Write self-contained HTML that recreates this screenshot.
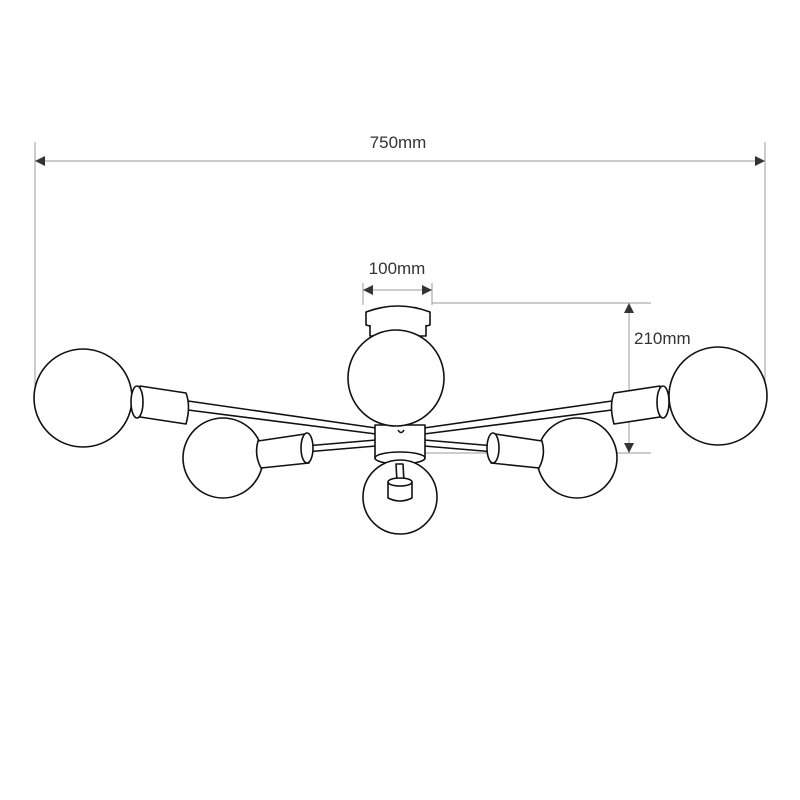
<!DOCTYPE html>
<html><head><meta charset="utf-8"><style>
html,body{margin:0;padding:0;background:#fff}
svg{display:block}
text{font-family:"Liberation Sans",sans-serif;font-size:17px;fill:#333}
</style></head><body>
<svg width="800" height="800" viewBox="0 0 800 800" xmlns="http://www.w3.org/2000/svg">
<defs>
<marker id="a" viewBox="0 0 10 10" refX="10" refY="5" markerWidth="10" markerHeight="10" markerUnits="userSpaceOnUse" orient="auto-start-reverse"><path d="M0,0L10,5L0,10z" fill="#333"/></marker>
</defs>
<g stroke="#999" stroke-width="1" fill="none">
<line x1="35" y1="142" x2="35" y2="395"/>
<line x1="765" y1="142" x2="765" y2="395"/>
<line x1="35" y1="161" x2="765" y2="161" marker-start="url(#a)" marker-end="url(#a)"/>
<line x1="363" y1="283" x2="363" y2="305"/>
<line x1="432" y1="283" x2="432" y2="305"/>
<line x1="363" y1="290" x2="432" y2="290" marker-start="url(#a)" marker-end="url(#a)"/>
<line x1="432" y1="303" x2="651" y2="303"/>
<line x1="425" y1="453" x2="651" y2="453"/>
<line x1="629" y1="303" x2="629" y2="453" marker-start="url(#a)" marker-end="url(#a)"/>
</g>
<text x="398" y="148" text-anchor="middle">750mm</text>
<text x="397" y="274" text-anchor="middle">100mm</text>
<text x="634" y="344">210mm</text>
<g stroke="#111" stroke-width="1.6" fill="#fff" stroke-linejoin="round">
<!-- rods left -->
<path d="M188,401 L376,428 L376,434 L188,410z"/>
<path d="M305,446 L376,440 L376,446 L305,452z"/>
<!-- rods right -->
<path d="M612,401 L424,428 L424,434 L612,410z"/>
<path d="M495,446 L424,440 L424,446 L495,452z"/>
<!-- left big -->
<circle cx="83" cy="398" r="49"/>
<path d="M140,386 L186,393 Q191,406 186,424 L140,417z"/>
<ellipse cx="137" cy="402" rx="6" ry="16"/>
<!-- left small -->
<circle cx="223" cy="458" r="40"/>
<path d="M258,441 L305,434 L309,463 L261,468 Q254,455 258,441z"/>
<ellipse cx="307" cy="448" rx="6" ry="15"/>
<!-- right big -->
<circle cx="718" cy="396" r="49"/>
<path d="M660,386 L614,393 Q609,406 614,424 L660,417z"/>
<ellipse cx="663" cy="402" rx="6" ry="16"/>
<!-- right small -->
<circle cx="577" cy="458" r="40"/>
<path d="M542,441 L495,434 L491,463 L539,468 Q546,455 542,441z"/>
<ellipse cx="493" cy="448" rx="6" ry="15"/>
<!-- center body -->
<path d="M375,425 L375,458 Q400,466 425,458 L425,425z"/>
<ellipse cx="400" cy="458" rx="25" ry="6"/>
<!-- canopy -->
<path d="M366,312 Q398,300 430,312 L430,325 Q398,335 366,325z"/>
<path d="M370,325 L370,336 L426,336 L426,325"/>
<!-- center globe -->
<circle cx="396" cy="378" r="48"/>
<path d="M398,430 q3,5 6,0" fill="none"/>
<!-- bottom globe -->
<circle cx="400" cy="497" r="37"/>
<path d="M396,464 L403,464 L404,482 L397,482z"/>
<path d="M388,482 Q400,476 412,482 L412,498 Q400,504 388,498z"/>
<ellipse cx="400" cy="482" rx="12" ry="4"/>
</g>
</svg>
</body></html>
